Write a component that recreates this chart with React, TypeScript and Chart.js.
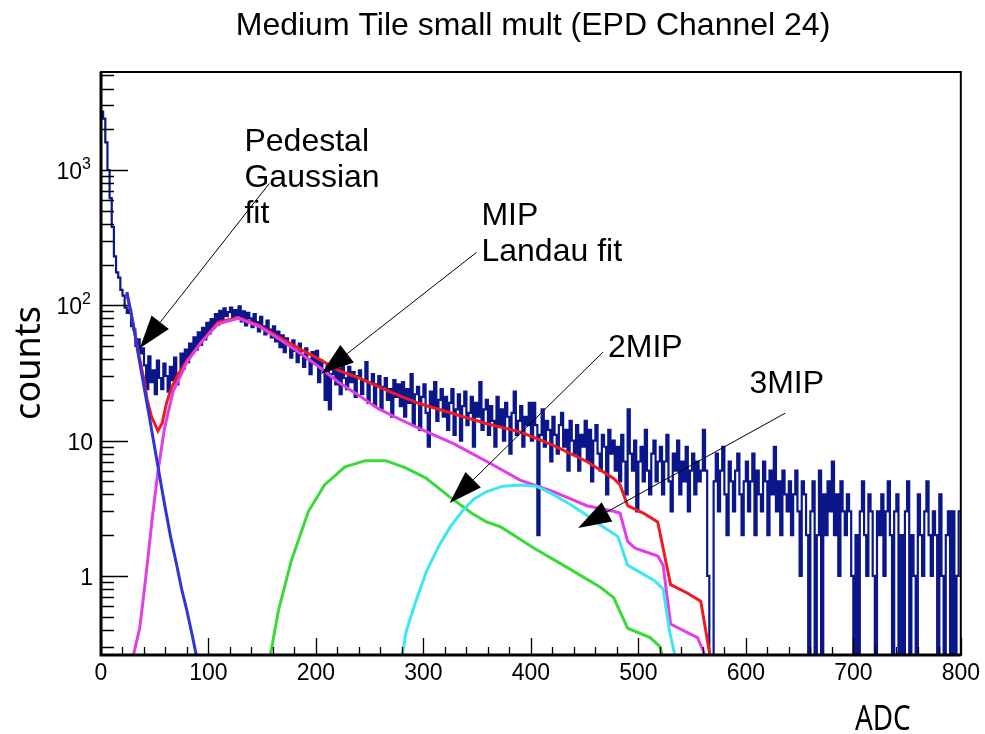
import { useEffect, useRef } from "react";
import { Chart, registerables } from "chart.js";

Chart.register(...registerables);

// ---------------- data ----------------
const TITLE = "Medium Tile small mult (EPD Channel 24)";
const X_TITLE = "ADC";
const Y_TITLE = "counts";

const X_MIN = 0;
const X_MAX = 800;
const Y_MIN = 0.26;
const Y_MAX = 5300;
const BIN_WIDTH = 2;

// measured histogram (counts per 2-ADC bin), 0..800
const counts = [
  2700, 2400, 1600, 1000, 620, 380, 230, 175, 160, 130, 118, 96, 88, 92, 70, 66, 50, 56, 44, 48,
  36, 24, 42, 27, 33, 22, 39, 29, 24, 37, 30, 23, 35, 28, 41, 26, 31, 44, 34, 47,
  38, 52, 44, 58, 47, 63, 51, 68, 56, 74, 62, 79, 69, 86, 72, 91, 78, 95, 83, 89,
  96, 79, 92, 84, 98, 76, 90, 71, 88, 80, 69, 86, 75, 64, 82, 70, 61, 77, 66, 58,
  70, 54, 64, 49, 60, 45, 57, 51, 41, 55, 46, 38, 52, 43, 35, 48, 40, 31, 45, 37,
  46, 27, 39, 33, 20, 36, 17, 31, 40, 26, 34, 22, 37, 29, 24, 35, 27, 32, 21, 30,
  33, 22, 28, 38, 19, 27, 31, 18, 26, 30, 17, 25, 29, 20, 24, 15, 28, 21, 26, 18,
  27, 15, 24, 19, 31, 13, 22, 25, 12, 21, 26, 16, 9, 23, 18, 27, 14, 20, 24, 15,
  21, 12, 19, 24, 11, 17, 22, 10, 18, 23, 13, 16, 21, 9, 19, 15, 27, 12, 17, 20,
  11, 18, 14, 9, 21, 13, 17, 10, 19, 15, 8, 16, 23, 11, 14, 18, 9, 15, 13, 19,
  10, 19, 13, 2, 11, 17, 9, 14, 12, 7, 15, 11, 8, 13, 16, 9, 12, 6, 14, 10,
  8, 13, 6, 11, 9, 14, 7, 12, 5, 10, 13, 8, 6, 11, 9, 4, 12, 8, 10, 6,
  9, 5, 11, 7, 4, 17, 8, 6, 10, 3, 7, 9, 5, 12, 6, 4, 8, 10, 5, 7,
  9, 4, 7, 11, 5, 3, 8, 6, 10, 4, 7, 5, 9, 3, 6, 8, 4, 7, 5, 6,
  12, 6, 1, 0, 0, 5, 8, 3, 6, 9, 4, 2, 7, 5, 3, 6, 8, 4, 2, 5,
  7, 3, 5, 8, 2, 6, 4, 3, 7, 5, 2, 6, 4, 9, 3, 5, 2, 6, 4, 3,
  5, 2, 4, 6, 3, 1, 5, 4, 2, 0, 3, 5, 0, 2, 6, 0, 4, 2, 5, 3,
  7, 2, 4, 1, 5, 3, 2, 4, 3, 1, 0, 2, 0, 3, 5, 2, 1, 4, 3, 1,
  0, 3, 2, 4, 1, 3, 5, 2, 0, 3, 4, 0, 2, 0, 3, 5, 0, 2, 1, 0,
  4, 2, 1, 3, 5, 2, 1, 3, 2, 0, 4, 1, 0, 2, 3, 0, 3, 0, 1, 3,
];

// Pedestal Gaussian fit (blue)
const pedAdc = [24, 30, 35, 40, 45, 50, 55, 60, 65, 70, 75, 80, 85, 90];
const pedVal = [125, 72, 42, 25, 15, 8.8, 5.2, 3.1, 1.9, 1.25, 0.8, 0.55, 0.36, 0.23];

// total fit (red)
const totAdc = [24, 30, 35, 40, 43, 47, 53, 57, 61, 66, 72, 80, 93, 109, 128, 147, 166, 184, 203, 221, 240, 258, 278, 297, 328, 359, 390, 421, 452, 477, 483, 490, 505, 518, 530, 545, 558, 569];
const totVal = [125, 72, 44, 28, 20, 15, 11.8, 13.5, 19, 25, 31, 39, 53, 75, 81, 71, 58, 48, 40, 33, 29, 25, 21.4, 18.7, 15.8, 13.3, 11.6, 9.2, 7.0, 5.25, 4.7, 3.3, 2.9, 2.5, 0.86, 0.75, 0.65, 0.2];

// MIP Landau fit (magenta)
const mipAdc = [27, 32, 36, 40, 44, 48, 53, 59, 67, 80, 93, 109, 128, 147, 166, 184, 203, 221, 240, 258, 277, 297, 328, 359, 390, 421, 452, 477, 483, 490, 497, 518, 523, 530, 555, 568];
const mipVal = [0.2, 0.3, 0.41, 0.75, 1.43, 2.8, 5.9, 12.2, 23, 38, 53, 73, 80, 70, 56, 45, 35, 27, 21.5, 17.2, 14.5, 12.2, 9.5, 7.0, 5.1, 4.2, 3.3, 3.0, 2.9, 1.8, 1.6, 1.4, 1.2, 0.44, 0.35, 0.2];

// 2MIP (green)
const mip2Adc = [155, 165, 177, 193, 208, 227, 246, 265, 283, 302, 325, 345, 359, 372, 403, 434, 465, 477, 490, 511, 520, 526];
const mip2Val = [0.2, 0.55, 1.29, 3.0, 4.7, 6.4, 7.1, 7.1, 6.3, 5.3, 3.8, 2.9, 2.5, 2.3, 1.6, 1.15, 0.82, 0.69, 0.41, 0.35, 0.3, 0.2];

// 3MIP (cyan)
const mip3Adc = [278, 284, 293, 303, 315, 325, 336, 347, 359, 374, 390, 405, 418, 436, 452, 465, 481, 490, 515, 523, 529, 537];
const mip3Val = [0.2, 0.39, 0.65, 1.09, 1.7, 2.3, 3.0, 3.7, 4.2, 4.6, 4.7, 4.6, 4.1, 3.4, 2.8, 2.37, 1.95, 1.2, 0.92, 0.8, 0.39, 0.2];

// y tick labels: base text and exponent text
const yTickValues = [1, 10, 100, 1000];
const yTickBase = ["1", "10", "10", "10"];
const yTickExp = ["", "", "2", "3"];

// annotations: text lines, text anchor (ADC, counts at first baseline), arrow tail and tip (ADC, counts)
const annTexts = [["Pedestal", "Gaussian", "fit"], ["MIP", "Landau fit"], ["2MIP"], ["3MIP"]];
const annTextAt = [[133.5, 1393], [354, 389], [471.7, 41.3], [603.3, 22.4]];
const annTail = [[156.6, 795], [349.4, 246], [467, 45], [636.7, 15.96]];
const annTip = [[36.1, 48.2], [204.8, 31.0], [324.4, 3.46], [443.9, 2.26]];

// ---------------- styling ----------------
const HIST_COLOR = "#0a168a";
const FONT = '"Liberation Sans", Arial, sans-serif';

const FLOOR = 0.05; // value used to draw empty bins below the axis floor

function curve(xs: number[], ys: number[]) {
  return xs.map((x, i) => ({ x, y: ys[i] }));
}

const rootPlugin = {
  id: "rootDecor",
  afterDatasetsDraw(chart: any) {
    const { ctx, chartArea: a, scales } = chart;
    const xs = scales.x;
    const ys = scales.y;
    ctx.save();
    // inward ticks
    ctx.strokeStyle = "#000";
    ctx.lineWidth = 1.3;
    ctx.beginPath();
    for (let v = X_MIN; v <= X_MAX; v += 20) {
      const px = Math.round(xs.getPixelForValue(v)) + 0.5;
      const len = v % 100 === 0 ? 17 : 8;
      ctx.moveTo(px, a.bottom);
      ctx.lineTo(px, a.bottom - len);
    }
    for (let e = -1; e <= 3; e++) {
      for (let m = 1; m <= 9; m++) {
        const v = m * Math.pow(10, e);
        if (v < Y_MIN || v > Y_MAX) continue;
        const py = Math.round(ys.getPixelForValue(v)) + 0.5;
        const len = m === 1 ? 27 : 13;
        ctx.moveTo(a.left, py);
        ctx.lineTo(a.left + len, py);
      }
    }
    ctx.stroke();
    // frame
    ctx.lineWidth = 2;
    ctx.strokeRect(a.left, a.top, a.right - a.left, a.bottom - a.top);
    ctx.lineWidth = 3;
    ctx.beginPath();
    ctx.moveTo(a.left, a.top);
    ctx.lineTo(a.left, a.bottom);
    ctx.lineTo(a.right, a.bottom);
    ctx.stroke();

    // annotations
    ctx.fillStyle = "#000";
    ctx.font = `32px ${FONT}`;
    ctx.textAlign = "left";
    ctx.textBaseline = "alphabetic";
    annTexts.forEach((lines, k) => {
      const tx = xs.getPixelForValue(annTextAt[k][0]);
      const ty = ys.getPixelForValue(annTextAt[k][1]);
      lines.forEach((t, j) => ctx.fillText(t, tx, ty + j * 36));
      const x0 = xs.getPixelForValue(annTail[k][0]);
      const y0 = ys.getPixelForValue(annTail[k][1]);
      const x1 = xs.getPixelForValue(annTip[k][0]);
      const y1 = ys.getPixelForValue(annTip[k][1]);
      const ang = Math.atan2(y1 - y0, x1 - x0);
      const L = 33;
      const W = 11;
      const bx = x1 - L * Math.cos(ang);
      const by = y1 - L * Math.sin(ang);
      ctx.lineWidth = 1;
      ctx.beginPath();
      ctx.moveTo(x0, y0);
      ctx.lineTo(bx, by);
      ctx.stroke();
      ctx.beginPath();
      ctx.moveTo(x1, y1);
      ctx.lineTo(bx + W * Math.sin(ang), by - W * Math.cos(ang));
      ctx.lineTo(bx - W * Math.sin(ang), by + W * Math.cos(ang));
      ctx.closePath();
      ctx.fill();
    });
    ctx.restore();
  },
  afterDraw(chart: any) {
    const { ctx, chartArea: a, scales } = chart;
    const ys = scales.y;
    ctx.save();
    ctx.fillStyle = "#000";
    // y tick labels with superscript exponents
    yTickValues.forEach((v, i) => {
      const py = ys.getPixelForValue(v);
      if (yTickExp[i]) {
        ctx.font = `23px ${FONT}`;
        ctx.textAlign = "right";
        ctx.textBaseline = "alphabetic";
        ctx.fillText(yTickBase[i], a.left - 19, py + 9);
        ctx.font = `16px ${FONT}`;
        ctx.textAlign = "left";
        ctx.fillText(yTickExp[i], a.left - 19, py - 1);
      } else {
        ctx.font = `23px ${FONT}`;
        ctx.textAlign = "right";
        ctx.textBaseline = "alphabetic";
        ctx.fillText(yTickBase[i], a.left - 8, py + 9);
      }
    });
    // title
    ctx.font = `32px ${FONT}`;
    ctx.textAlign = "center";
    ctx.textBaseline = "alphabetic";
    ctx.fillText(TITLE, 533, 35);
    // x title
    ctx.save();
    ctx.translate(a.right - 78, 730);
    ctx.scale(0.82, 1);
    ctx.font = '34px "Noto Sans", sans-serif';
    ctx.textAlign = "center";
    ctx.fillText(X_TITLE, 0, 0);
    ctx.restore();
    // y title
    ctx.save();
    ctx.translate(40, 363);
    ctx.rotate(-Math.PI / 2);
    ctx.font = '36px "Noto Sans", sans-serif';
    ctx.textAlign = "center";
    ctx.textBaseline = "alphabetic";
    ctx.fillText(Y_TITLE, 0, 0);
    ctx.restore();
    ctx.restore();
  },
};

export default function App() {
  const ref = useRef<HTMLCanvasElement | null>(null);
  useEffect(() => {
    if (!ref.current) return;
    const histPts = counts.map((c, i) => ({ x: X_MIN + i * BIN_WIDTH, y: c > 0 ? c : FLOOR }));
    const last = counts[counts.length - 1];
    histPts.push({ x: X_MIN + counts.length * BIN_WIDTH, y: last > 0 ? last : FLOOR });

    const fitStyle = (color: string, order: number) => ({
      borderColor: color,
      borderWidth: 3,
      pointRadius: 0,
      tension: 0,
      fill: false,
      order,
    });

    const chart = new Chart(ref.current, {
      type: "line",
      data: {
        datasets: [
          {
            label: "data",
            data: histPts,
            borderColor: HIST_COLOR,
            borderWidth: 2.2,
            pointRadius: 0,
            stepped: "before",
            fill: false,
            order: 10,
          } as any,
          { label: "total", data: curve(totAdc, totVal), ...fitStyle("#ee1c22", 6) },
          { label: "MIP", data: curve(mipAdc, mipVal), ...fitStyle("#e23ee6", 5) },
          { label: "2MIP", data: curve(mip2Adc, mip2Val), ...fitStyle("#3ada3a", 4) },
          { label: "3MIP", data: curve(mip3Adc, mip3Val), ...fitStyle("#3fe6ef", 3) },
          { label: "pedestal", data: curve(pedAdc, pedVal), ...fitStyle("#2a36d8", 2) },
        ],
      },
      options: {
        responsive: false,
        animation: false,
        events: [],
        layout: { padding: { left: 0, right: 21, top: 72, bottom: 0 } },
        plugins: {
          legend: { display: false },
          tooltip: { enabled: false },
          title: { display: false },
        },
        scales: {
          x: {
            type: "linear",
            min: X_MIN,
            max: X_MAX,
            grid: { display: false, drawTicks: false },
            border: { display: false },
            ticks: {
              stepSize: 100,
              padding: 5,
              color: "#000",
              maxRotation: 0,
              autoSkip: false,
              font: { family: FONT, size: 23 },
            },
            afterFit: (s: any) => {
              s.height = 79;
            },
          },
          y: {
            type: "logarithmic",
            min: Y_MIN,
            max: Y_MAX,
            grid: { display: false, drawTicks: false },
            border: { display: false },
            afterBuildTicks: (s: any) => {
              s.ticks = yTickValues.map((v) => ({ value: v }));
            },
            ticks: { display: false },
            afterFit: (s: any) => {
              s.width = 101;
            },
          },
        },
      } as any,
      plugins: [rootPlugin],
    });
    return () => chart.destroy();
  }, []);

  return (
    <div style={{ position: "absolute", left: 0, top: 0, width: 985, height: 734, background: "#fff" }}>
      <canvas ref={ref} width={985} height={734} style={{ display: "block", width: 985, height: 734 }} />
    </div>
  );
}
